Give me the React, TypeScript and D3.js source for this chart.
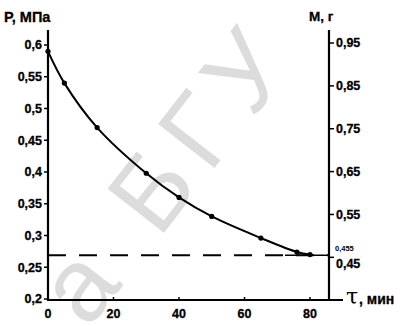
import * as d3 from "d3";

// measured points, P (МПа) vs τ (мин)
const TIME = [0, 5, 15, 30, 40, 50, 65, 76, 80];
const PRESSURE = [0.59, 0.54, 0.47, 0.398, 0.36, 0.33, 0.296, 0.274, 0.27];
const LEFT_TICKS = [0.2, 0.25, 0.3, 0.35, 0.4, 0.45, 0.5, 0.55, 0.6];
const RIGHT_TICKS = [0.45, 0.55, 0.65, 0.75, 0.85, 0.95];
const X_TICKS = [0, 20, 40, 60, 80];
const P_LIMIT = 0.269;
const M_LIMIT = 0.455;

const W = 414;
const H = 326;
const FONT = "'Liberation Sans', Arial, sans-serif";

const fmt = (v: number) => String(+v.toFixed(3)).replace(".", ",");

export default function App() {
  const x = d3.scaleLinear().domain([0, 80]).range([48, 310]);
  const yL = d3.scaleLinear().domain([0.2, 0.6]).range([299, 45]);
  const yR = d3.scaleLinear().domain([M_LIMIT, 0.95]).range([yL(P_LIMIT), 43]);
  const xRight = x(85.8);

  const pts = TIME.map((t, i) => [x(t), yL(PRESSURE[i])] as [number, number]);
  const line = d3.line().curve(d3.curveCatmullRom.alpha(0.5));

  const label = {
    fontFamily: FONT,
    fontWeight: "bold" as const,
    fontSize: 12.5,
    stroke: "#000",
    strokeWidth: 0.3,
  };

  return (
    <svg width={W} height={H} style={{ position: "absolute", left: 0, top: 0, background: "#fff" }}>
      {/* scan watermark */}
      <text
        transform="translate(88,330) rotate(-52)"
        fontFamily={FONT}
        fontSize={104}
        fill="#dcdcdc"
        letterSpacing={14}
      >
        а БГУ
      </text>

      {/* axes */}
      <line x1={48} x2={48} y1={30} y2={300} stroke="#000" strokeWidth={2.2} />
      <line x1={47} x2={343} y1={300} y2={300} stroke="#000" strokeWidth={2.2} />
      <line x1={xRight} x2={xRight} y1={30} y2={300} stroke="#000" strokeWidth={2.2} />

      {LEFT_TICKS.map((t) => (
        <g key={t}>
          <line x1={44} x2={48} y1={yL(t)} y2={yL(t)} stroke="#000" strokeWidth={1.5} />
          <text x={42} y={yL(t)} dy="0.35em" textAnchor="end" {...label}>
            {fmt(t)}
          </text>
        </g>
      ))}

      {RIGHT_TICKS.map((t) => (
        <g key={t}>
          <line x1={xRight} x2={xRight + 5} y1={yR(t)} y2={yR(t)} stroke="#000" strokeWidth={1.5} />
          <text x={xRight + 7} y={yR(t) + (t === 0.45 ? 6 : 0)} dy="0.35em" {...label}>
            {fmt(t)}
          </text>
        </g>
      ))}
      <text x={xRight + 6} y={yR(M_LIMIT) - 4} fontFamily={FONT} fontWeight="bold" fontSize={7.5}>
        {fmt(M_LIMIT)}
      </text>

      {X_TICKS.map((t) => (
        <g key={t}>
          <line x1={x(t)} x2={x(t)} y1={297} y2={300} stroke="#000" strokeWidth={1.5} />
          <text x={x(t)} y={318} textAnchor="middle" {...label}>
            {t}
          </text>
        </g>
      ))}

      {/* axis titles */}
      <text x={4} y={22} {...label} fontSize={14.5}>
        P, МПа
      </text>
      <text x={309} y={21} {...label} fontSize={13.5}>
        М, г
      </text>
      <text x={346} y={304} fontFamily="'DejaVu Serif', serif" fontSize={22}>
        τ
      </text>
      <text x={359} y={304} {...label} fontSize={14}>
        , мин
      </text>

      {/* limit line */}
      <line
        x1={48}
        x2={xRight}
        y1={yL(P_LIMIT)}
        y2={yL(P_LIMIT)}
        stroke="#000"
        strokeWidth={2}
        strokeDasharray="18,13"
      />
      <line x1={285} x2={xRight} y1={yL(P_LIMIT)} y2={yL(P_LIMIT)} stroke="#000" strokeWidth={1.5} />

      {/* curve */}
      <path d={line(pts) ?? ""} fill="none" stroke="#000" strokeWidth={2} />
      {pts.map(([px, py], i) => (
        <circle key={i} cx={px} cy={py} r={2.6} fill="#000" />
      ))}
    </svg>
  );
}
